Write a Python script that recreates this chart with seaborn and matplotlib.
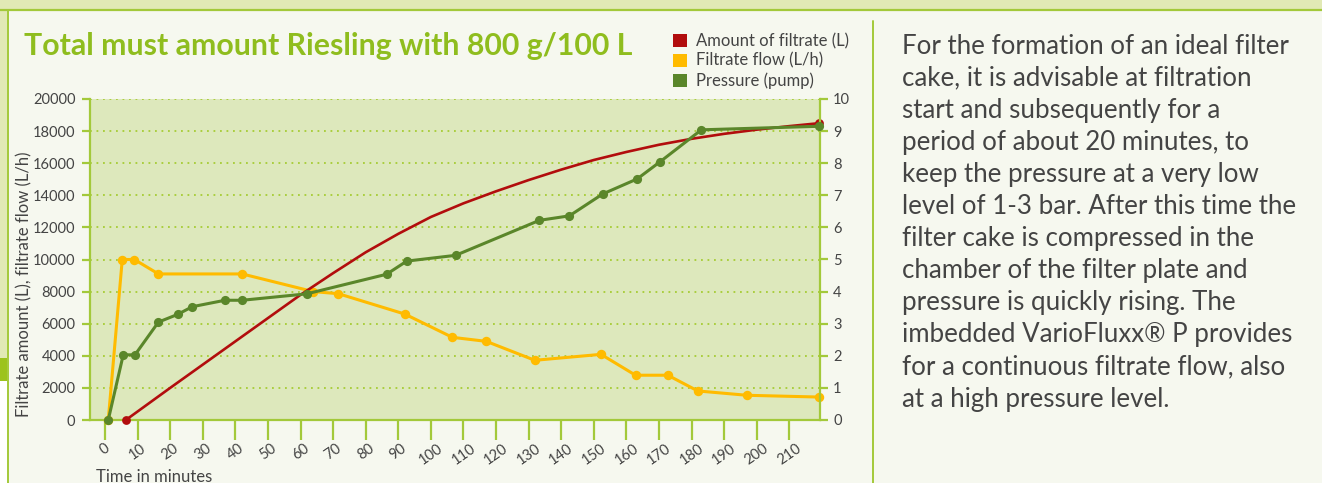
import matplotlib
matplotlib.use('Agg')
import matplotlib.pyplot as plt
from matplotlib.patches import Rectangle, Patch
from matplotlib.lines import Line2D
import seaborn as sns

# filtrate flow (L/h), left axis
minutes_flow = [1.0, 5.3, 9.0, 16.4, 42.1, 63.9, 71.6, 92.0, 106.6, 117.0,
                131.9, 152.2, 162.8, 172.7, 181.9, 197.0, 219.1]
flow = [0, 10000, 10000, 9100, 9100, 8000, 7870, 6600, 5150, 4900,
        3720, 4090, 2790, 2790, 1810, 1540, 1430]

# pressure (bar), right axis
minutes_pressure = [1.0, 5.6, 9.2, 16.4, 22.3, 26.8, 36.8, 42.1, 61.9, 86.4,
                    92.6, 107.6, 133.3, 142.5, 152.7, 163.3, 170.4, 183.0, 219.2]
pressure = [0, 2.03, 2.03, 3.05, 3.29, 3.53, 3.73, 3.73, 3.93, 4.54,
            4.95, 5.13, 6.22, 6.36, 7.04, 7.51, 8.05, 9.04, 9.15]

# amount of filtrate (L), left axis
minutes_amount = [6.4, 20, 40, 60, 70, 80, 90, 100, 110, 120, 130, 140,
                  150, 160, 170, 180, 190, 200, 210, 219.0]
amount = [0, 2000, 4900, 7800, 9150, 10450, 11600, 12650, 13500, 14250,
          14950, 15600, 16200, 16700, 17150, 17520, 17830, 18090, 18310, 18490]

time_ticks = list(range(0, 220, 10))
left_ticks = list(range(0, 20001, 2000))
right_ticks = list(range(0, 11))

legend_labels = ['Amount of filtrate (L)', 'Filtrate flow (L/h)', 'Pressure (pump)']
title = 'Total must amount Riesling with 800 g/100 L'
paragraph = ['For the formation of an ideal filter',
             'cake, it is advisable at filtration',
             'start and subsequently for a',
             'period of about 20 minutes, to',
             'keep the pressure at a very low',
             'level of 1-3 bar. After this time the',
             'filter cake is compressed in the',
             'chamber of the filter plate and',
             'pressure is quickly rising. The',
             'imbedded VarioFluxx\u00ae P provides',
             'for a continuous filtrate flow, also',
             'at a high pressure level.']

RED = '#b20d0d'
YELLOW = '#ffbb00'
GREEN = '#5a862a'
LIME = '#a3c93a'
PLOT_BG = '#dde8bc'
PANEL = '#f6f8ef'
BAND = '#e1e9b5'
GREY = '#444444'

sns.set_style('white')
plt.rcParams['font.family'] = ['Lato', 'DejaVu Sans']

W, H = 1322, 483
def fx(px):
    return px / W
def fy(py):
    return 1 - py / H

fig = plt.figure(figsize=(W / 100, H / 100), dpi=100)
fig.patch.set_facecolor(PANEL)

# page decoration
fig.add_artist(Rectangle((0, fy(9.5)), 1, 9.5 / H, transform=fig.transFigure,
                         color=BAND, zorder=-2, lw=0))
fig.add_artist(Rectangle((0, fy(358)), fx(7), (358 - 9.5) / H, transform=fig.transFigure,
                         color=BAND, zorder=-2, lw=0))
fig.add_artist(Rectangle((0, fy(381)), fx(7), 23 / H, transform=fig.transFigure,
                         color='#9cc31e', zorder=-2, lw=0))
fig.add_artist(Rectangle((0, 0), fx(7), fy(381), transform=fig.transFigure,
                         color='white', zorder=-2, lw=0))
fig.add_artist(Line2D([0, 1], [fy(10), fy(10)], transform=fig.transFigure, color=LIME, lw=1.6))
fig.add_artist(Line2D([fx(7.5), fx(7.5)], [fy(10), 0], transform=fig.transFigure, color=LIME, lw=1.4))
fig.add_artist(Line2D([fx(872.5), fx(872.5)], [fy(21), 0], transform=fig.transFigure, color=LIME, lw=1.4))

ax = fig.add_axes([fx(90), fy(420), fx(820) - fx(90), fy(99) - fy(420)])
ax.set_facecolor(PLOT_BG)
ax2 = ax.twinx()

sns.lineplot(x=minutes_flow, y=flow, ax=ax, color=YELLOW, lw=2.2, marker='o',
             markersize=6.8, markeredgewidth=0, clip_on=False, zorder=3)
sns.lineplot(x=minutes_amount, y=amount, ax=ax, color=RED, lw=1.9, clip_on=False, zorder=4)
sns.scatterplot(x=[minutes_amount[0], minutes_amount[-1]], y=[amount[0], amount[-1]], ax=ax,
                color=RED, s=40, linewidth=0, clip_on=False, zorder=5)
sns.lineplot(x=minutes_pressure, y=pressure, ax=ax2, color=GREEN, lw=2.2, marker='o',
             markersize=6.6, markeredgewidth=0, clip_on=False, zorder=3)

ax.set_xlim(-4.6, 219.4)
ax.set_ylim(0, 20000)
ax2.set_ylim(0, 10)
ax.set_xticks(time_ticks)
ax.set_yticks(left_ticks)
ax2.set_yticks(right_ticks)
ax.set_xlabel('')
ax.set_ylabel('')
ax2.set_ylabel('')

ax.yaxis.grid(True, linestyle=(0, (1, 2.6)), color='#a6cc34', lw=1.3)
ax.xaxis.grid(False)
ax2.grid(False)
ax.set_axisbelow(True)

for s in ['top', 'right']:
    ax.spines[s].set_visible(False)
for s in ['top', 'left', 'bottom']:
    ax2.spines[s].set_visible(False)
for sp in [ax.spines['left'], ax.spines['bottom'], ax2.spines['right']]:
    sp.set_color(LIME)
    sp.set_linewidth(1.6)

ax.tick_params(axis='y', direction='out', length=6, width=1.6, color=LIME,
               labelcolor=GREY, labelsize=10.5, pad=4.5, left=True)
ax.tick_params(axis='x', direction='out', length=14.5, width=1.6, color=LIME,
               labelcolor=GREY, labelsize=10.5, pad=1, bottom=True, labelrotation=35)
ax2.tick_params(axis='y', direction='out', length=6, width=1.6, color=LIME,
                labelcolor=GREY, labelsize=10.5, pad=3.5, right=True)

fig.text(fx(24), fy(55), title, fontsize=21.8, fontweight='bold', color='#8fbd1e', va='baseline')
fig.text(fx(24), fy(284), 'Filtrate amount (L), filtrate flow (L/h)', rotation=90,
         fontsize=12, color=GREY, ha='center', va='center')
fig.text(fx(96), fy(477), 'Time in minutes', fontsize=12, color=GREY, ha='left', va='center')

handles = [Patch(color=c, lw=0) for c in [RED, YELLOW, GREEN]]
fig.legend(handles=handles, labels=legend_labels, loc='upper left',
           bbox_to_anchor=(fx(673), fy(33)), frameon=False, fontsize=12,
           handlelength=0.85, handleheight=0.85, handletextpad=0.55,
           labelspacing=0.22, borderpad=0, borderaxespad=0, labelcolor=GREY)

for i, line in enumerate(paragraph):
    fig.text(fx(902), fy(53.5 + i * 32.1), line, fontsize=18.6, color=GREY, va='baseline')

fig.savefig('out.png', dpi=100, facecolor=fig.get_facecolor())
